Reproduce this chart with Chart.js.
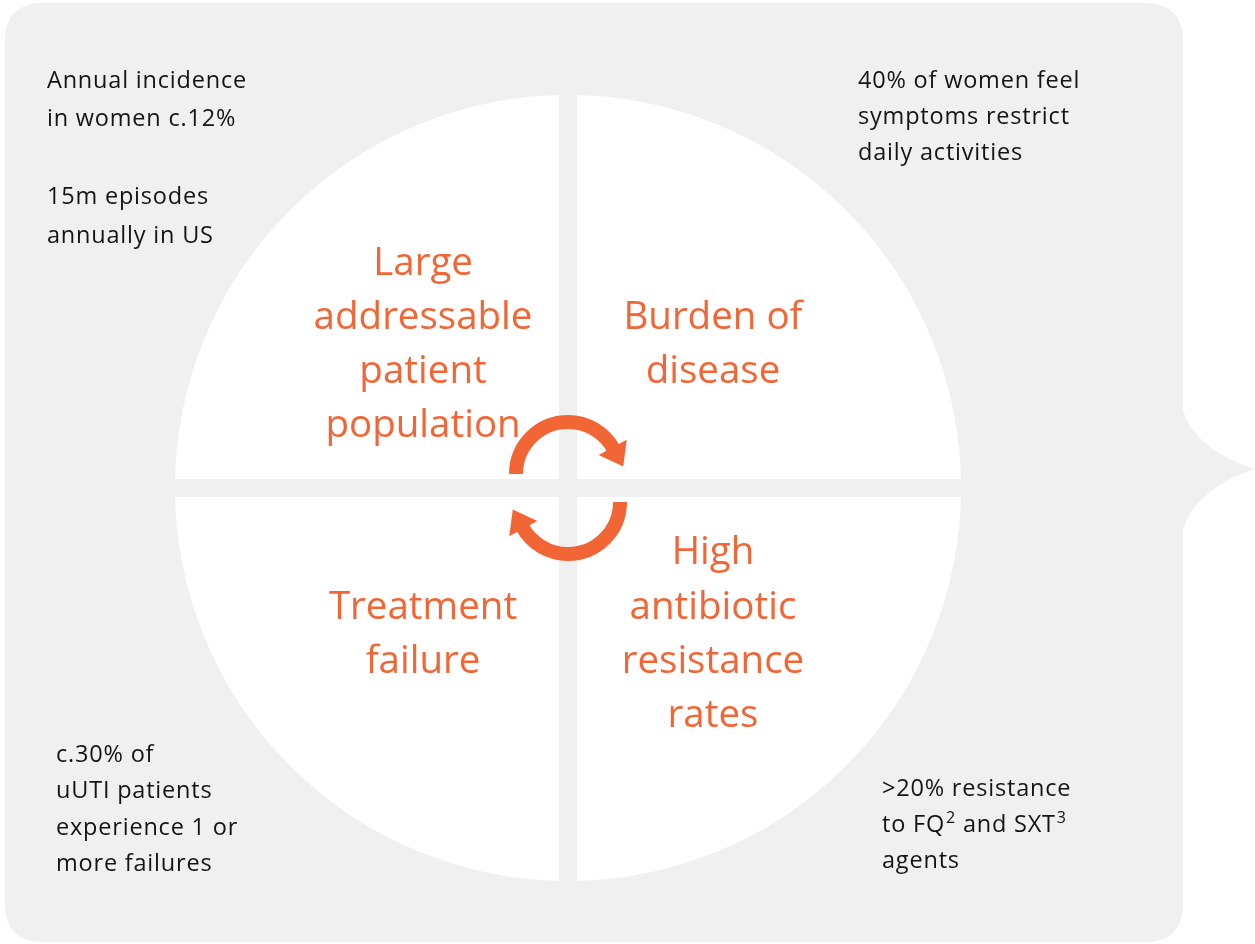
<!DOCTYPE html>
<html>
<head>
<meta charset="utf-8">
<script src="https://cdn.jsdelivr.net/npm/chart.js@4"></script>
<style>
  html, body { margin: 0; padding: 0; background: #ffffff; }
  #wrap { width: 1255px; height: 944px; position: relative; }
</style>
</head>
<body>
<div id="wrap"><canvas id="cycleChart" width="1255" height="944"></canvas></div>
<script>
// four equal quadrants, clockwise from 12 o'clock
var quadrantNames = ["Burden of disease", "High antibiotic resistance rates", "Treatment failure", "Large addressable patient population"];
var quadrantShares = [25, 25, 25, 25];
var quadrantLines = [
  ["Burden of", "disease"],
  ["High", "antibiotic", "resistance", "rates"],
  ["Treatment", "failure"],
  ["Large", "addressable", "patient", "population"]
];
// side notes
var noteTopLeft = ["Annual incidence", "in women c.12%", "", "15m episodes", "annually in US"];
var noteTopRight = ["40% of women feel", "symptoms restrict", "daily activities"];
var noteBottomLeft = ["c.30% of", "uUTI patients", "experience 1 or", "more failures"];
var noteBottomRight = [[">20% resistance"], ["to FQ", "^2", " and SXT", "^3"], ["agents"]];

var ORANGE = "#f26636";
var GREY = "#f0f0f0";
var TEXT = "#141414";
var FONT = "'Open Sans', Lato, sans-serif";
var NOTE_FONT = "23.5px " + FONT;

// grey rounded panel with the pointer on the right
var panelPlugin = {
  id: "panel",
  beforeDraw: function(chart) {
    var c = chart.ctx;
    var x0 = 5, y0 = 3, x1 = 1183, y1 = 942, r = 38;
    c.save();
    c.fillStyle = GREY;
    c.beginPath();
    c.moveTo(x0 + r, y0);
    c.lineTo(x1 - r, y0);
    c.quadraticCurveTo(x1, y0, x1, y0 + r);
    c.lineTo(x1, 410);
    c.bezierCurveTo(x1 + 8, 440, 1225, 460, 1255, 469);
    c.bezierCurveTo(1225, 478, x1 + 8, 500, x1, 530);
    c.lineTo(x1, y1 - r);
    c.quadraticCurveTo(x1, y1, x1 - r, y1);
    c.lineTo(x0 + r, y1);
    c.quadraticCurveTo(x0, y1, x0, y1 - r);
    c.lineTo(x0, y0 + r);
    c.quadraticCurveTo(x0, y0, x0 + r, y0);
    c.closePath();
    c.fill();
    c.restore();
  }
};

function drawLines(c, lines, x, y, step) {
  for (var i = 0; i < lines.length; i++) {
    c.fillText(lines[i], x, y + i * step);
  }
}

function drawRuns(c, runs, x, y) {
  // runs starting with ^ are superscripts
  var cx = x;
  for (var i = 0; i < runs.length; i++) {
    var t = runs[i];
    if (t.charAt(0) === "^") {
      t = t.substring(1);
      c.font = "16px " + FONT;
      c.fillText(t, cx + 1, y - 7);
      cx += c.measureText(t).width + 1;
      c.font = NOTE_FONT;
    } else {
      c.fillText(t, cx, y);
      cx += c.measureText(t).width;
    }
  }
}

function drawArrow(c, cx, cy, r, a0, a1) {
  c.beginPath();
  c.arc(cx, cy, r, a0, a1, false);
  c.lineWidth = 14;
  c.strokeStyle = ORANGE;
  c.stroke();
  // head at the end of the arc, pointing along the tangent
  var bx = cx + r * Math.cos(a1), by = cy + r * Math.sin(a1);
  var tx = -Math.sin(a1), ty = Math.cos(a1);
  var rx = Math.cos(a1), ry = Math.sin(a1);
  c.beginPath();
  c.moveTo(bx + rx * 16 - tx * 2, by + ry * 16 - ty * 2);
  c.lineTo(bx - rx * 16 - tx * 2, by - ry * 16 - ty * 2);
  c.lineTo(bx + tx * 20, by + ty * 20);
  c.closePath();
  c.fillStyle = ORANGE;
  c.fill();
}

var labelPlugin = {
  id: "labels",
  afterDraw: function(chart) {
    var c = chart.ctx;
    var meta = chart.getDatasetMeta(0);
    var arc0 = meta.data[0];
    var cx = arc0.x, cy = arc0.y;
    c.save();
    // quadrant titles
    c.fillStyle = ORANGE;
    c.font = "38.5px " + FONT;
    c.letterSpacing = "0px";
    c.textAlign = "center";
    c.textBaseline = "middle";
    meta.data.forEach(function(arc, i) {
      var mid = (arc.startAngle + arc.endAngle) / 2;
      var lx = cx + 205 * Math.cos(mid);
      var ly = cy + 205 * Math.sin(mid);
      var lines = quadrantLines[i];
      var step = 54.3;
      drawLines(c, lines, lx, ly - (lines.length - 1) * step / 2 + 2, step);
    });

    // cycle arrows
    drawArrow(c, cx, cy - 14, 52, Math.PI, 2 * Math.PI - 0.5);
    drawArrow(c, cx, cy + 14, 52, 0, Math.PI - 0.5);

    // side notes
    c.fillStyle = TEXT;
    c.font = NOTE_FONT;
    c.letterSpacing = "0.8px";
    c.textAlign = "left";
    drawLines(c, noteTopLeft, 47, 81, 38.8);
    drawLines(c, noteTopRight, 858, 81, 36.2);
    drawLines(c, noteBottomLeft, 56, 755, 36.6);
    for (var i = 0; i < noteBottomRight.length; i++) {
      drawRuns(c, noteBottomRight[i], 882, 789 + i * 36);
    }
    c.restore();
  }
};

var ctx = document.getElementById("cycleChart");
var cycleChart = new Chart(ctx, {
  type: "pie",
  data: {
    labels: quadrantNames,
    datasets: [{
      data: quadrantShares,
      backgroundColor: "#ffffff",
      borderColor: GREY,
      borderWidth: 18,
      borderJoinStyle: "miter",
      hoverOffset: 0
    }]
  },
  options: {
    responsive: false,
    animation: false,
    radius: 402,
    layout: { padding: { left: 166, right: 285, top: 86, bottom: 54 } },
    plugins: {
      legend: { display: false },
      tooltip: { enabled: false }
    },
    events: []
  },
  plugins: [panelPlugin, labelPlugin]
});
</script>
</body>
</html>
